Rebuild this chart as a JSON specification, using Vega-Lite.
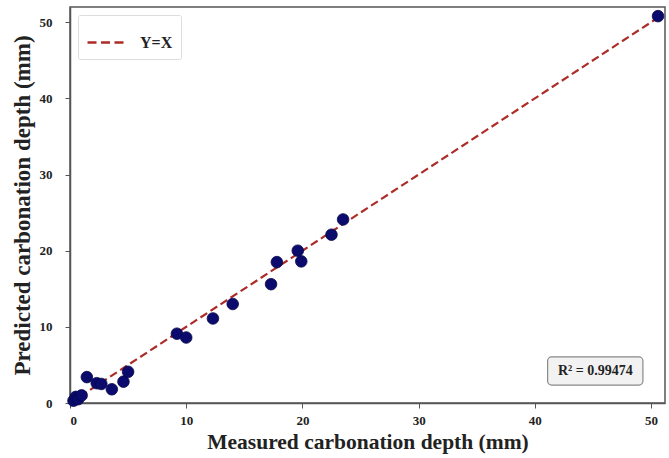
{
  "$schema": "https://vega.github.io/schema/vega-lite/v6.json",
  "width": 595,
  "height": 396,
  "autosize": "none",
  "padding": {"left": 70, "top": 7, "right": 4, "bottom": 55},
  "background": "white",
  "config": {
    "font": "Liberation Serif",
    "view": {"stroke": "#555555", "strokeWidth": 1.5},
    "axis": {
      "grid": false,
      "domainColor": "#555555",
      "domainWidth": 1.5,
      "tickColor": "#555555",
      "tickSize": 5,
      "labelFont": "Liberation Serif",
      "labelFontWeight": "bold",
      "labelFontSize": 13,
      "labelColor": "#222222",
      "titleFont": "Liberation Serif",
      "titleFontWeight": "bold",
      "titleColor": "#222222"
    }
  },
  "datasets": {
    "points": [
      {"measured": 0.3, "predicted": 0.3},
      {"measured": 0.5, "predicted": 0.8},
      {"measured": 0.7, "predicted": 0.5},
      {"measured": 1.0, "predicted": 1.0},
      {"measured": 1.45, "predicted": 3.4},
      {"measured": 2.3, "predicted": 2.6},
      {"measured": 2.7, "predicted": 2.5},
      {"measured": 3.6, "predicted": 1.8},
      {"measured": 4.6, "predicted": 2.8},
      {"measured": 5.0, "predicted": 4.1},
      {"measured": 9.2, "predicted": 9.1},
      {"measured": 10.0, "predicted": 8.6},
      {"measured": 12.3, "predicted": 11.1},
      {"measured": 14.0, "predicted": 13.0},
      {"measured": 17.3, "predicted": 15.6},
      {"measured": 17.8, "predicted": 18.5},
      {"measured": 19.6, "predicted": 20.0},
      {"measured": 19.9, "predicted": 18.6},
      {"measured": 22.5, "predicted": 22.1},
      {"measured": 23.5, "predicted": 24.1},
      {"measured": 50.6, "predicted": 50.8}
    ],
    "line": [
      {"x": 0, "y": 0, "series": "Y=X"},
      {"x": 50.7, "y": 50.7, "series": "Y=X"}
    ],
    "box": [
      {"x1": 41.1, "x2": 49.3, "y1": 2.35, "y2": 6.05, "x": 45.2, "y": 4.2, "label": "R² = 0.99474"}
    ]
  },
  "layer": [
    {
      "data": {"name": "line"},
      "mark": {"type": "line", "strokeDash": [8, 4], "strokeWidth": 2.2},
      "encoding": {
        "x": {"field": "x", "type": "quantitative", "scale": {"domain": [0, 51.2], "nice": false, "zero": false}, "axis": {"values": [0, 10, 20, 30, 40, 50], "title": "Measured carbonation depth (mm)", "titleFontSize": 21.5, "labelPadding": 6, "titlePadding": 4}},
        "y": {"field": "y", "type": "quantitative", "scale": {"domain": [0, 52], "nice": false, "zero": false}, "axis": {"values": [0, 10, 20, 30, 40, 50], "title": "Predicted carbonation depth (mm)", "titleFontSize": 23, "labelPadding": 13, "titlePadding": 5}},
        "color": {
          "field": "series", "type": "nominal",
          "scale": {"range": ["#ac2c28"]},
          "legend": {
            "title": null,
            "orient": "top-left",
            "offset": 8,
            "symbolType": "stroke",
            "symbolDash": [9, 4.5],
            "symbolStrokeWidth": 2.5,
            "symbolSize": 1296,
            "labelOffset": 15,
            "labelFont": "Liberation Serif",
            "labelFontWeight": "bold",
            "labelFontSize": 16,
            "labelColor": "#222222",
            "strokeColor": "#dddddd",
            "fillColor": "white",
            "padding": 8,
            "cornerRadius": 2
          }
        }
      }
    },
    {
      "data": {"name": "points"},
      "mark": {"type": "circle", "size": 135, "opacity": 1, "color": "#0b0b6e", "stroke": "#06064a", "strokeWidth": 0.8},
      "encoding": {
        "x": {"field": "measured", "type": "quantitative"},
        "y": {"field": "predicted", "type": "quantitative"}
      }
    },
    {
      "data": {"name": "box"},
      "mark": {"type": "rect", "fill": "#f2f2f2", "stroke": "#888888", "strokeWidth": 1.2, "cornerRadius": 4},
      "encoding": {
        "x": {"field": "x1", "type": "quantitative"},
        "x2": {"field": "x2"},
        "y": {"field": "y1", "type": "quantitative"},
        "y2": {"field": "y2"}
      }
    },
    {
      "data": {"name": "box"},
      "mark": {"type": "text", "font": "Liberation Serif", "fontWeight": "bold", "fontSize": 14, "color": "#222222", "align": "center", "baseline": "middle"},
      "encoding": {
        "x": {"field": "x", "type": "quantitative"},
        "y": {"field": "y", "type": "quantitative"},
        "text": {"field": "label"}
      }
    }
  ]
}
